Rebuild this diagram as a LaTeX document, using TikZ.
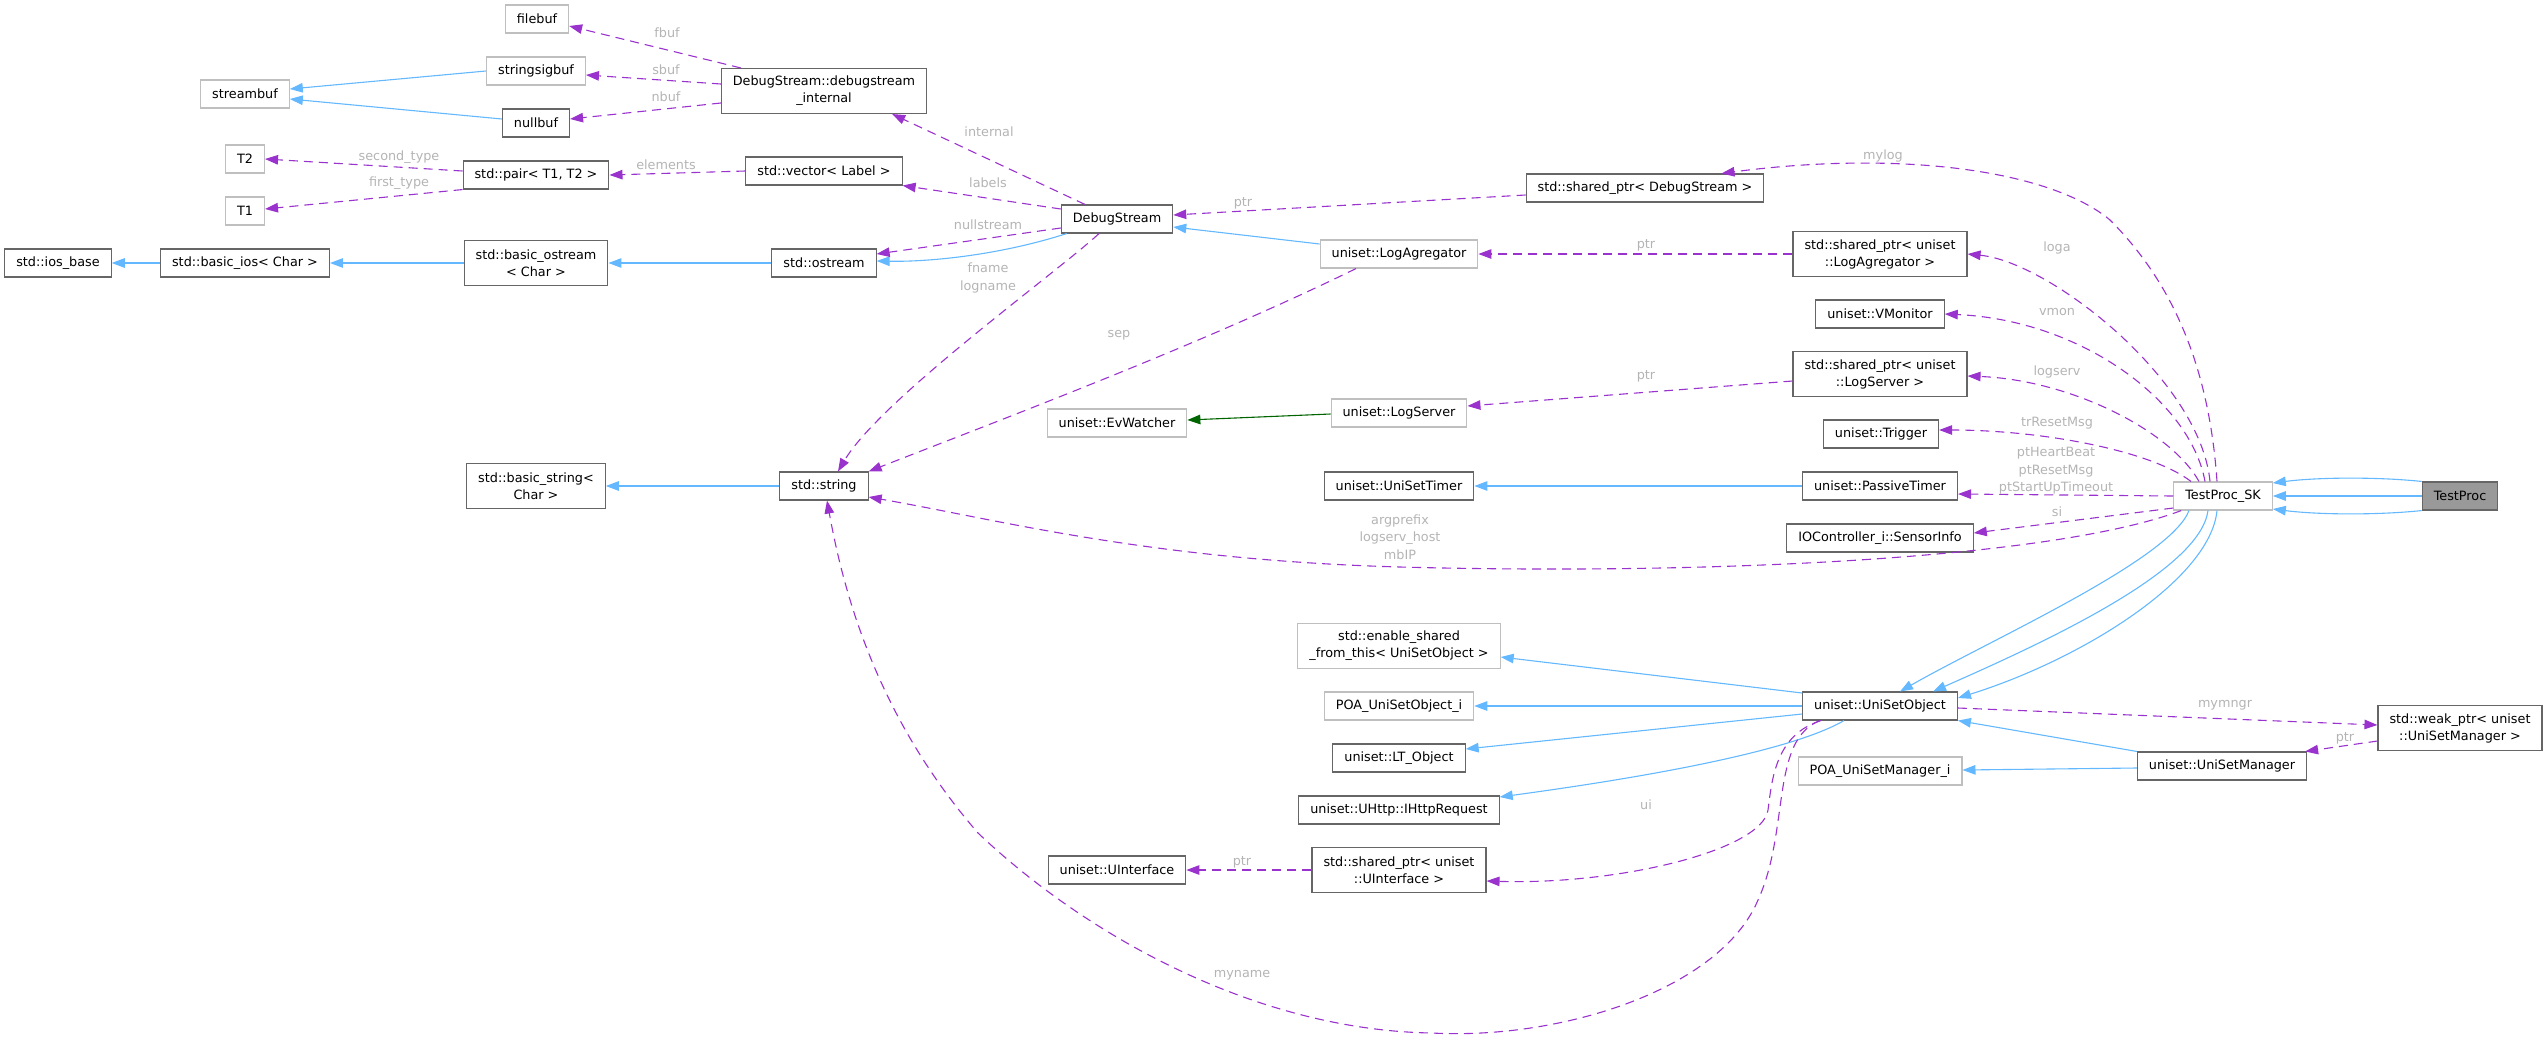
\documentclass[tikz,border=0pt]{standalone}
\usepackage{fontspec}
\setmainfont{DejaVu Sans}
\usetikzlibrary{arrows.meta}

\definecolor{inhblue}{HTML}{63B8FF}
\definecolor{usepurple}{HTML}{9A32CD}
\definecolor{tmplgreen}{HTML}{006400}
\definecolor{edgegrey}{HTML}{B4B4B4}
\definecolor{boxdark}{HTML}{666666}
\definecolor{boxlight}{HTML}{BFBFBF}
\definecolor{boxfill}{HTML}{999999}

\begin{document}
\begin{tikzpicture}[
  x=1pt, y=-1pt,
  cls/.style={rectangle, draw=boxdark, line width=1.1pt, fill=white,
    minimum height=28pt, inner xsep=11.5pt, inner ysep=2pt, align=center,
    font=\fontsize{12.8}{17}\selectfont},
  ext/.style={cls, draw=boxlight},
  two/.style={minimum height=45pt},
  cur/.style={cls, fill=boxfill},
  inh/.style={draw=inhblue, line width=1.1pt, -{Triangle[length=13pt,width=9.5pt]}},
  tmpl/.style={inh, draw=tmplgreen},
  use/.style={draw=usepurple, line width=1.1pt, dash pattern=on 9pt off 6pt,
    -{Triangle[length=13pt,width=9.5pt]}},
  lbl/.style={text=edgegrey, font=\fontsize{12.8}{17.5}\selectfont,
    align=center, inner sep=0pt}
]
  \path[use as bounding box] (0,0) rectangle (2547,1039);

  \node[ext] (filebuf) at (537,19) {filebuf};
  \node[ext] (stringsigbuf) at (536,71) {stringsigbuf};
  \node[ext] (streambuf) at (245,94) {streambuf};
  \node[cls] (nullbuf) at (536,123) {nullbuf};
  \node[cls, two] (dsint) at (824,91) {DebugStream::debugstream\\\_internal};
  \node[ext] (T2) at (245,159) {T2};
  \node[ext] (T1) at (245,211) {T1};
  \node[cls] (pair) at (536,175) {std::pair< T1, T2 >};
  \node[cls] (vector) at (824,171) {std::vector< Label >};
  \node[cls] (iosbase) at (58,263) {std::ios\_base};
  \node[cls] (basicios) at (245,263) {std::basic\_ios< Char >};
  \node[cls, two] (basicostream) at (536,263) {std::basic\_ostream\\< Char >};
  \node[cls] (ostream) at (824,263) {std::ostream};
  \node[cls, two] (basicstring) at (536,486) {std::basic\_string<\\Char >};
  \node[cls] (string) at (824,486) {std::string};
  \node[cls] (debugstream) at (1117,219) {DebugStream};
  \node[cls] (spDebug) at (1645,188) {std::shared\_ptr< DebugStream >};
  \node[ext] (logagr) at (1399,254) {uniset::LogAgregator};
  \node[ext] (evwatcher) at (1117,423) {uniset::EvWatcher};
  \node[ext] (logserver) at (1399,413) {uniset::LogServer};
  \node[cls] (unisettimer) at (1399,486) {uniset::UniSetTimer};
  \node[cls, two] (spLogAgr) at (1880,254) {std::shared\_ptr< uniset\\::LogAgregator >};
  \node[cls] (vmonitor) at (1880,314) {uniset::VMonitor};
  \node[cls, two] (spLogServ) at (1880,374) {std::shared\_ptr< uniset\\::LogServer >};
  \node[cls] (trigger) at (1881,434) {uniset::Trigger};
  \node[cls] (passivetimer) at (1880,486) {uniset::PassiveTimer};
  \node[cls] (sensorinfo) at (1880,538) {IOController\_i::SensorInfo};
  \node[ext] (testprocsk) at (2223,496) {TestProc\_SK};
  \node[cur] (testproc) at (2460,496) {TestProc};
  \node[ext, two] (enableshared) at (1399,646) {std::enable\_shared\\\_from\_this< UniSetObject >};
  \node[ext] (poaobj) at (1399,706) {POA\_UniSetObject\_i};
  \node[cls] (ltobject) at (1399,758) {uniset::LT\_Object};
  \node[cls] (ihttp) at (1399,810) {uniset::UHttp::IHttpRequest};
  \node[cls, two] (spUI) at (1399,870) {std::shared\_ptr< uniset\\::UInterface >};
  \node[cls] (uinterface) at (1117,870) {uniset::UInterface};
  \node[cls] (unisetobject) at (1880,706) {uniset::UniSetObject};
  \node[ext] (poamgr) at (1880,771) {POA\_UniSetManager\_i};
  \node[cls] (unisetmgr) at (2222,766) {uniset::UniSetManager};
  \node[cls, two] (weakptr) at (2460,728) {std::weak\_ptr< uniset\\::UniSetManager >};

  \draw[inh] (stringsigbuf.west) -- ([yshift=5pt]streambuf.east);
  \draw[inh] ([yshift=4pt]nullbuf.west) -- ([yshift=-5pt]streambuf.east);
  \draw[inh] (basicios.west) -- (iosbase.east);
  \draw[inh] (basicostream.west) -- (basicios.east);
  \draw[inh] (ostream.west) -- (basicostream.east);
  \draw[inh] ([xshift=6pt]debugstream.south west) .. controls (1000,255) and (930,262) .. ([yshift=2pt]ostream.east);
  \draw[inh] (string.west) -- (basicstring.east);
  \draw[inh] ([yshift=10pt]logagr.west) -- ([yshift=-8pt]debugstream.east);
  \draw[tmpl] ([yshift=-1pt]logserver.west) -- ([yshift=3pt]evwatcher.east);
  \draw[inh] (passivetimer.west) -- (unisettimer.east);
  \draw[inh] ([yshift=13pt]unisetobject.west) -- ([yshift=-11pt]enableshared.east);
  \draw[inh] (unisetobject.west) -- (poaobj.east);
  \draw[inh] ([yshift=-8pt]unisetobject.west) -- ([yshift=9pt]ltobject.east);
  \draw[inh] ([xshift=-36pt]unisetobject.south) .. controls (1790,752) and (1640,778) .. ([yshift=13pt]ihttp.east);
  \draw[inh] (unisetmgr.north west) -- (unisetobject.south east);
  \draw[inh] ([yshift=-2pt]unisetmgr.west) -- ([yshift=1pt]poamgr.east);
  \draw[inh] ([xshift=-34pt]testprocsk.south) .. controls (2170,560) and (1990,640) .. ([xshift=20pt]unisetobject.north);
  \draw[inh] ([xshift=-15pt]testprocsk.south) .. controls (2200,570) and (2050,640) .. ([xshift=53pt]unisetobject.north);
  \draw[inh] ([xshift=-6pt]testprocsk.south) .. controls (2210,580) and (2080,660) .. ([yshift=8pt]unisetobject.east);
  \draw[inh] (testproc.north west) .. controls (2380,477) and (2320,477) .. ([yshift=13pt]testprocsk.east);
  \draw[inh] (testproc.west) -- (testprocsk.east);
  \draw[inh] (testproc.south west) .. controls (2380,515) and (2320,515) .. ([yshift=-13pt]testprocsk.east);

  \draw[use] ([xshift=20pt]dsint.north west) -- ([yshift=-7pt]filebuf.east)
    node[lbl, at={(667,33)}] {fbuf};
  \draw[use] ([yshift=7pt]dsint.west) -- ([yshift=-4pt]stringsigbuf.east)
    node[lbl, at={(666,70)}] {sbuf};
  \draw[use] ([yshift=-12pt]dsint.west) -- ([yshift=4pt]nullbuf.east)
    node[lbl, at={(666,97)}] {nbuf};
  \draw[use] ([yshift=4pt]pair.west) -- (T2.east)
    node[lbl, at={(399,157)}] {second\_type};
  \draw[use] (pair.south west) -- ([yshift=2pt]T1.east)
    node[lbl, at={(399,183)}] {first\_type};
  \draw[use] (vector.west) -- (pair.east)
    node[lbl, at={(666,165)}] {elements};
  \draw[use] ([xshift=-32pt]debugstream.north) -- ([xshift=-35pt]dsint.south east)
    node[lbl, at={(989,132)}] {internal};
  \draw[use] ([yshift=10pt]debugstream.west) -- (vector.south east)
    node[lbl, at={(988,183)}] {labels};
  \draw[use] ([yshift=-9pt]debugstream.west) -- ([yshift=9pt]ostream.east)
    node[lbl, at={(988,225)}] {nullstream};
  \draw[use] ([xshift=-18pt]debugstream.south) .. controls (1060,270) and (880,400) .. ([xshift=14pt]string.north)
    node[lbl, at={(988,278)}] {fname\\logname};
  \draw[use] ([yshift=-7pt]spDebug.west) -- ([yshift=4pt]debugstream.east)
    node[lbl, at={(1243,203)}] {ptr};
  \draw[use] ([xshift=-43pt]logagr.south) .. controls (1200,345) and (1000,420) .. (string.north east)
    node[lbl, at={(1119,335)}] {sep};
  \draw[use] (spLogAgr.west) -- (logagr.east)
    node[lbl, at={(1646,245)}] {ptr};
  \draw[use] ([yshift=-7pt]spLogServ.west) -- ([yshift=7pt]logserver.east)
    node[lbl, at={(1646,376)}] {ptr};
  \draw[use] ([xshift=-6pt]testprocsk.north) .. controls (2210,380) and (2180,290) .. (2110,220)
    .. controls (2050,170) and (1900,150) .. ([xshift=-43pt]spDebug.north east)
    node[lbl, at={(1883,156)}] {mylog};
  \draw[use] ([xshift=-13pt]testprocsk.north) .. controls (2200,380) and (2050,262) .. (spLogAgr.east)
    node[lbl, at={(2057,248)}] {loga};
  \draw[use] ([xshift=-18pt]testprocsk.north) .. controls (2190,400) and (2080,320) .. (vmonitor.east)
    node[lbl, at={(2057,312)}] {vmon};
  \draw[use] ([xshift=-24pt]testprocsk.north) .. controls (2170,430) and (2070,380) .. ([yshift=-2pt]spLogServ.east)
    node[lbl, at={(2057,372)}] {logserv};
  \draw[use] ([xshift=-32pt]testprocsk.north) .. controls (2150,450) and (2040,430) .. ([yshift=4pt]trigger.east)
    node[lbl, at={(2057,423)}] {trResetMsg};
  \draw[use] (testprocsk.west) -- ([yshift=-8pt]passivetimer.east)
    node[lbl, at={(2056,471)}] {ptHeartBeat\\ptResetMsg\\ptStartUpTimeout};
  \draw[use] ([yshift=-12pt]testprocsk.west) -- ([yshift=5pt]sensorinfo.east)
    node[lbl, at={(2057,512)}] {si};
  \draw[use] ([xshift=8pt]testprocsk.south west) .. controls (2050,560) and (1700,575) .. (1400,567)
    .. controls (1150,560) and (1000,520) .. ([yshift=-11pt]string.east)
    node[lbl, at={(1400,537)}] {argprefix\\logserv\_host\\mbIP};
  \draw[use] ([yshift=-2pt]unisetobject.east) -- ([yshift=3pt]weakptr.west)
    node[lbl, at={(2225,705)}] {mymngr};
  \draw[use] ([yshift=-13pt]weakptr.west) -- ([xshift=-2pt]unisetmgr.north east)
    node[lbl, at={(2345,738)}] {ptr};
  \draw[use] ([xshift=-59pt]unisetobject.south) .. controls (1775,735) and (1772,780) .. (1768,810)
    .. controls (1762,850) and (1620,885) .. ([yshift=-11pt]spUI.east)
    node[lbl, at={(1646,805)}] {ui};
  \draw[use] (spUI.west) -- (uinterface.east)
    node[lbl, at={(1242,862)}] {ptr};
  \draw[use] ([xshift=-60pt]unisetobject.south) .. controls (1770,740) and (1790,830) .. (1758,900)
    .. controls (1720,990) and (1560,1040) .. (1432,1033)
    .. controls (1250,1030) and (1080,930) .. (978,833)
    .. controls (880,720) and (845,600) .. ([xshift=3pt]string.south)
    node[lbl, at={(1242,975)}] {myname};
\end{tikzpicture}
\end{document}
